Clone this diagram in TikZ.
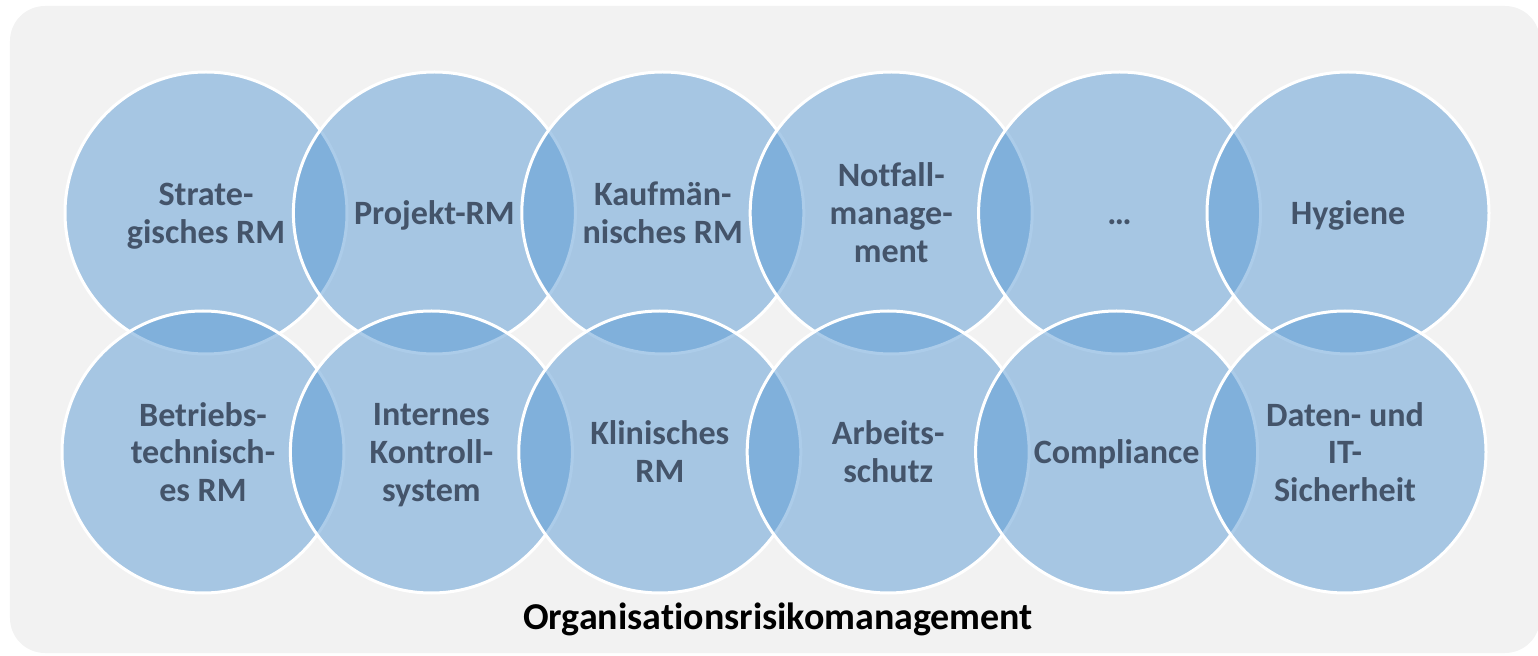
\documentclass[tikz,border=0pt]{standalone}
\usepackage{fontspec}
\setmainfont{Carlito}[Ligatures=NoCommon]
\usetikzlibrary{positioning}
\definecolor{vennblue}{HTML}{5B9BD5}
\definecolor{venntext}{HTML}{44546A}
\definecolor{panelgray}{HTML}{F2F2F2}

\begin{document}
\begin{tikzpicture}[
    venn/.style={circle, draw=white, line width=0.6mm, fill=vennblue, fill opacity=0.5,
      text opacity=1, minimum size=5.64cm, inner sep=0pt, outer sep=0pt, align=center,
      text depth=0pt, text=venntext, font=\fontsize{19.4}{21.6}\selectfont\bfseries},
    title/.style={font=\fontsize{21.6}{24}\selectfont\bfseries, text=black}
  ]
  \useasboundingbox (0,0) rectangle (30.76,13.1);
  \fill[panelgray, rounded corners=0.7cm] (0.2,0.04) rectangle (30.8,12.98);
  %---------------------------
  \node[venn] (strat) at (4.12,8.84) {Strate-\\gisches RM};
  \node[venn, right=-1.072cm of strat] (projekt) {Projekt-RM};
  \node[venn, right=-1.072cm of projekt] (kauf) {Kaufmän-\\nisches RM};
  \node[venn, right=-1.072cm of kauf] (notfall) {Notfall-\\manage-\\ment};
  \node[venn, right=-1.072cm of notfall] (dots) {\vphantom{H}…};
  \node[venn, right=-1.072cm of dots] (hygiene) {Hygiene};
  %---------------------------
  \node[venn, below=-0.86cm of strat, xshift=-0.6mm] (betrieb) {Betriebs-\\technisch-\\es RM};
  \node[venn, right=-1.072cm of betrieb] (iks) {Internes\\Kontroll-\\system};
  \node[venn, right=-1.072cm of iks] (klinik) {Klinisches\\RM};
  \node[venn, right=-1.072cm of klinik] (arbeit) {Arbeits-\\schutz};
  \node[venn, right=-1.072cm of arbeit] (compl) {Compliance};
  \node[venn, right=-1.072cm of compl] (datenit) {Daten- und\\IT-\\Sicherheit};
  %---------------------------
  \node[title] (orm) at (15.56,0.72) {Organisationsrisikomanagement};
\end{tikzpicture}
\end{document}
